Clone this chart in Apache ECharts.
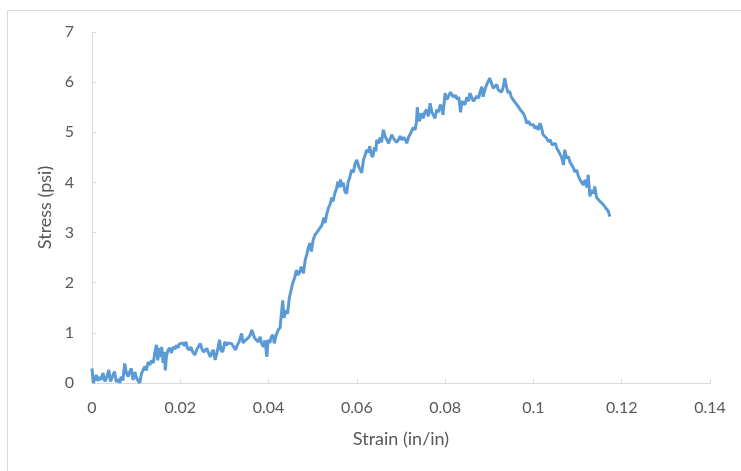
<!DOCTYPE html>
<html>
<head>
<meta charset="utf-8">
<script src="https://cdn.jsdelivr.net/npm/echarts@6/dist/echarts.min.js"></script>
<style>html,body{margin:0;padding:0;background:#fff}#c{width:741px;height:471px}</style>
</head>
<body>
<div id="c"></div>
<script>
const strain = [
0.0000,0.0003,0.0007,0.0010,0.0013,0.0017,0.0020,0.0025,0.0029,0.0033,0.0038,0.0042,0.0046,0.0051,0.0055,0.0059,0.0063,0.0066,0.0070,0.0074,
0.0078,0.0082,0.0086,0.0089,0.0093,0.0097,0.0100,0.0104,0.0108,0.0112,0.0116,0.0120,0.0123,0.0127,0.0131,0.0135,0.0139,0.0142,0.0146,0.0149,
0.0152,0.0155,0.0158,0.0161,0.0164,0.0166,0.0169,0.0172,0.0176,0.0180,0.0184,0.0188,0.0191,0.0195,0.0198,0.0202,0.0206,0.0209,0.0213,0.0216,
0.0220,0.0224,0.0228,0.0233,0.0237,0.0241,0.0245,0.0249,0.0253,0.0256,0.0260,0.0264,0.0268,0.0272,0.0275,0.0279,0.0283,0.0286,0.0289,0.0292,
0.0296,0.0301,0.0305,0.0309,0.0313,0.0317,0.0321,0.0325,0.0329,0.0333,0.0336,0.0339,0.0342,0.0346,0.0350,0.0354,0.0358,0.0362,0.0366,0.0369,
0.0373,0.0377,0.0381,0.0384,0.0388,0.0392,0.0396,0.0399,0.0403,0.0406,0.0410,0.0413,0.0417,0.0422,0.0426,0.0430,0.0432,0.0435,0.0439,0.0443,
0.0447,0.0451,0.0455,0.0459,0.0463,0.0466,0.0470,0.0474,0.0479,0.0483,0.0487,0.0490,0.0494,0.0497,0.0501,0.0505,0.0509,0.0513,0.0517,0.0521,
0.0525,0.0528,0.0532,0.0536,0.0540,0.0543,0.0546,0.0550,0.0554,0.0557,0.0560,0.0563,0.0566,0.0569,0.0573,0.0577,0.0580,0.0584,0.0588,0.0592,
0.0596,0.0600,0.0604,0.0608,0.0611,0.0615,0.0619,0.0622,0.0626,0.0629,0.0633,0.0636,0.0640,0.0643,0.0645,0.0649,0.0653,0.0656,0.0660,0.0664,
0.0668,0.0672,0.0675,0.0679,0.0683,0.0687,0.0690,0.0694,0.0698,0.0702,0.0706,0.0710,0.0713,0.0717,0.0720,0.0724,0.0728,0.0732,0.0735,0.0737,
0.0739,0.0742,0.0746,0.0750,0.0754,0.0758,0.0762,0.0766,0.0770,0.0773,0.0777,0.0781,0.0785,0.0789,0.0792,0.0795,0.0798,0.0800,0.0804,0.0808,
0.0812,0.0815,0.0819,0.0823,0.0827,0.0831,0.0835,0.0838,0.0841,0.0845,0.0849,0.0853,0.0856,0.0860,0.0864,0.0868,0.0872,0.0876,0.0879,0.0883,
0.0886,0.0890,0.0894,0.0898,0.0901,0.0905,0.0909,0.0913,0.0917,0.0920,0.0924,0.0928,0.0932,0.0935,0.0939,0.0943,0.0946,0.0950,0.0954,0.0958,
0.0962,0.0966,0.0970,0.0974,0.0977,0.0981,0.0985,0.0989,0.0993,0.0997,0.1000,0.1003,0.1007,0.1011,0.1015,0.1018,0.1022,0.1026,0.1030,0.1034,
0.1038,0.1042,0.1046,0.1050,0.1053,0.1057,0.1061,0.1064,0.1068,0.1071,0.1075,0.1079,0.1083,0.1086,0.1090,0.1094,0.1098,0.1102,0.1106,0.1109,
0.1113,0.1117,0.1121,0.1124,0.1128,0.1132,0.1136,0.1139,0.1143,0.1147,0.1151,0.1155,0.1159,0.1163,0.1167,0.1170,0.1173
];
const stress = [
0.29,0.00,0.10,0.16,0.04,0.12,0.06,0.20,0.03,0.10,0.26,0.03,0.12,0.23,0.02,0.08,0.00,0.13,0.05,0.39,
0.20,0.13,0.24,0.29,0.06,0.22,0.12,0.05,0.00,0.18,0.27,0.33,0.25,0.42,0.36,0.45,0.40,0.59,0.76,0.45,
0.70,0.52,0.72,0.40,0.62,0.25,0.55,0.65,0.70,0.60,0.72,0.68,0.75,0.70,0.78,0.76,0.80,0.74,0.82,0.70,
0.66,0.72,0.62,0.56,0.66,0.72,0.79,0.68,0.62,0.59,0.69,0.60,0.52,0.62,0.66,0.46,0.60,0.72,0.86,0.66,
0.62,0.82,0.76,0.80,0.82,0.78,0.80,0.66,0.75,0.82,0.85,0.99,0.80,0.84,0.86,0.90,0.95,1.06,0.95,0.89,
0.92,0.82,0.92,0.80,0.72,0.85,0.52,0.86,0.80,0.92,0.96,0.79,0.95,1.06,1.10,1.46,1.65,1.30,1.45,1.38,
1.70,1.85,2.00,2.10,2.25,2.15,2.20,2.32,2.19,2.45,2.58,2.70,2.79,2.62,2.85,2.95,2.98,3.05,3.02,3.15,
3.30,3.19,3.38,3.50,3.58,3.70,3.62,3.78,3.88,4.02,3.90,4.06,3.92,4.00,3.82,3.78,4.00,4.10,4.25,4.20,
4.38,4.45,4.32,4.35,4.19,4.45,4.55,4.65,4.60,4.72,4.55,4.51,4.70,4.62,4.85,4.78,4.90,4.80,5.05,4.92,
4.95,4.78,4.81,4.95,4.88,4.90,4.80,4.85,4.92,4.85,4.90,4.85,4.78,4.90,4.95,4.98,5.10,5.05,5.20,5.50,
5.30,5.22,5.38,5.28,5.40,5.45,5.32,5.58,5.40,5.35,5.28,5.45,5.40,5.55,5.51,5.35,5.60,5.78,5.65,5.72,
5.80,5.81,5.70,5.74,5.66,5.70,5.40,5.62,5.64,5.55,5.70,5.62,5.78,5.70,5.62,5.61,5.72,5.68,5.80,5.91,
5.71,5.85,5.95,5.92,6.08,5.98,5.88,5.91,5.95,5.85,5.88,5.80,5.92,6.08,5.90,5.78,5.82,5.70,5.68,5.60,
5.62,5.51,5.45,5.48,5.38,5.30,5.18,5.22,5.15,5.12,5.15,5.08,5.12,5.05,5.18,5.10,4.95,4.98,4.88,4.81,
4.85,4.75,4.72,4.78,4.68,4.62,4.65,4.50,4.35,4.65,4.48,4.52,4.40,4.41,4.30,4.21,4.25,4.12,4.05,4.02,
3.95,4.05,3.90,4.15,3.72,3.85,3.78,3.92,3.70,3.68,3.62,3.65,3.55,3.50,3.48,3.42,3.32
];
const xTickLabels = ['0','0.02','0.04','0.06','0.08','0.1','0.12','0.14'];
const yTickLabels = ['0','1','2','3','4','5','6','7'];
const xName = 'Strain (in/in)';
const yName = 'Stress (psi)';

const data = strain.map((x, i) => [x, stress[i]]);
const chart = echarts.init(document.getElementById('c'), null, {renderer: 'canvas'});
const font = 'Lato, "Open Sans", sans-serif';
const txt = '#595959';
const axisC = '#d9d9d9';
chart.setOption({
  animation: false,
  backgroundColor: '#fff',
  graphic: [{
    type: 'rect', left: 5, top: 8, shape: {x: 0, y: 0, width: 745, height: 470},
    style: {fill: 'none', stroke: '#d9d9d9', lineWidth: 1}, silent: true, z: -10
  }],
  grid: {left: 92, right: 31, top: 32, bottom: 88, containLabel: false},
  xAxis: {
    type: 'value', min: 0, max: 0.14, interval: 0.02,
    name: xName, nameLocation: 'middle', nameGap: 47,
    nameTextStyle: {color: txt, fontSize: 18, fontFamily: font},
    axisLine: {show: true, lineStyle: {color: axisC, width: 1}},
    axisTick: {show: true, inside: true, length: 4, lineStyle: {color: axisC}},
    splitLine: {show: false},
    axisLabel: {
      color: txt, fontSize: 16, fontFamily: font, margin: 17,
      formatter: v => xTickLabels[Math.round(v / 0.02)]
    }
  },
  yAxis: {
    type: 'value', min: 0, max: 7, interval: 1,
    name: yName, nameLocation: 'middle', nameGap: 36, nameRotate: 90,
    nameTextStyle: {color: txt, fontSize: 18, fontFamily: font},
    axisLine: {show: true, lineStyle: {color: axisC, width: 1}},
    axisTick: {show: true, inside: true, length: 4, lineStyle: {color: axisC}},
    splitLine: {show: false},
    axisLabel: {
      color: txt, fontSize: 16, fontFamily: font, margin: 18,
      formatter: v => yTickLabels[Math.round(v)]
    }
  },
  series: [{
    type: 'line', data: data, showSymbol: false, symbol: 'none',
    lineStyle: {color: '#5b9bd5', width: 3},
    itemStyle: {color: '#5b9bd5'}
  }]
});
</script>
</body>
</html>
